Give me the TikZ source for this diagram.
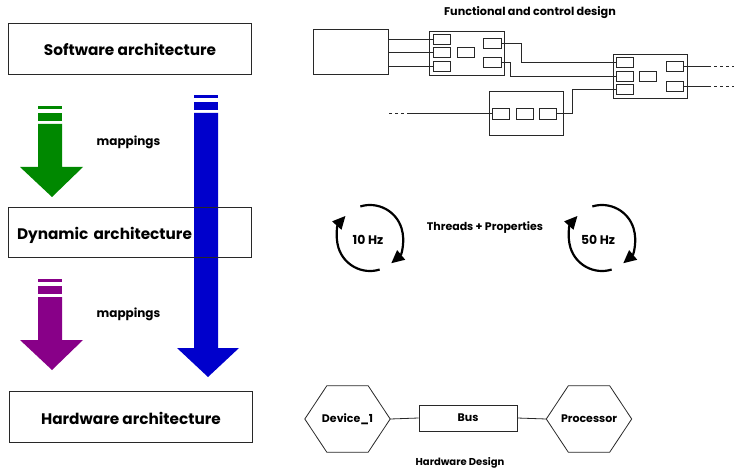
\documentclass[tikz,border=0pt]{standalone}
\usepackage{fontspec}
\setmainfont{Poppins}
\usetikzlibrary{arrows.meta}

\definecolor{mapgreen}{RGB}{0,136,0}
\definecolor{mappurple}{RGB}{136,0,136}
\definecolor{mapblue}{RGB}{0,0,204}
\definecolor{wire}{RGB}{40,40,40}

% hexagon outline drawn around a plain rectangular node
\newcommand\hexoutline[1]{%
  \draw[wire, line width=0.8pt] (#1.west) -- ([xshift=22pt]#1.north west)
    -- ([xshift=-22pt]#1.north east) -- (#1.east)
    -- ([xshift=-22pt]#1.south east) -- ([xshift=22pt]#1.south west) -- cycle;}

\tikzset{
  archbox/.style={draw=wire, line width=0.8pt, minimum width=243pt, inner sep=0pt,
    text height=15pt, text depth=0pt,
    font=\bfseries\fontsize{15.3}{18}\selectfont},
  blk/.style={draw=wire, line width=0.8pt, inner sep=0pt},
  port/.style={draw=wire, line width=0.8pt, inner sep=0pt, minimum width=17pt, minimum height=10pt},
  wireline/.style={wire, line width=0.8pt},
  dashend/.style={wire, line width=0.8pt, dash pattern=on 3pt off 3pt},
  label/.style={font=\bfseries\fontsize{11}{13}\selectfont},
  cyc/.style={line width=2.2pt, -{Triangle[length=13pt,width=12pt]}},
  hexnode/.style={minimum width=85pt, minimum height=66pt, inner sep=0pt,
    font=\bfseries\fontsize{11}{13}\selectfont},
}

\begin{document}
\begin{tikzpicture}[x=1pt, y=-1pt]
\useasboundingbox (0,0) rectangle (734,468);

% ---------- mapping arrows ----------
% green
\fill[mapgreen] (38,106) rectangle (62,109);
\fill[mapgreen] (38,113) rectangle (62,121);
\fill[mapgreen] (38,124) -- (62,124) -- (62,167) -- (83,167) -- (52,197)
  -- (20,167) -- (38,167) -- cycle;
% purple
\fill[mappurple] (38,279) rectangle (62,282);
\fill[mappurple] (38,286) rectangle (62,294);
\fill[mappurple] (38,297) -- (62,297) -- (62,340) -- (83,340) -- (52,370)
  -- (20,340) -- (38,340) -- cycle;
% blue
\fill[mapblue] (194,95) rectangle (218,98);
\fill[mapblue] (194,102) rectangle (218,110);
\fill[mapblue] (194,113) -- (218,113) -- (218,348) -- (239,348) -- (208,377)
  -- (177,348) -- (194,348) -- cycle;

% ---------- architecture levels ----------
\node[archbox, minimum height=51pt] (sw) at (130,48.5) {Software architecture};
\node[archbox, minimum height=50pt, text width=225pt, inner xsep=9pt, align=left,
  text height=16pt] (dyn) at (129.5,232) {Dynamic architecture};
\node[archbox, minimum height=51pt] (hw) at (131,416.5) {Hardware architecture};

\node[label, font=\bfseries\fontsize{12}{14}\selectfont] (map1) at (128.5,142) {mappings};
\node[label, font=\bfseries\fontsize{12}{14}\selectfont] (map2) at (128.5,314) {mappings};

% ---------- functional and control design ----------
\node[label, font=\bfseries\fontsize{11.2}{13}\selectfont] (ftitle) at (530,13) {Functional and control design};

\node[blk, minimum width=75pt, minimum height=45pt] (src) at (350.5,51.5) {};

\node[blk, minimum width=75pt, minimum height=44pt] (A) at (466.5,53) {};
\node[port] (a1) at (441.5,39) {};
\node[port] (a2) at (441.5,52.5) {};
\node[port] (a3) at (441.5,66) {};
\node[port] (a4) at (465.5,52.5) {};
\node[port, minimum width=18pt] (a5) at (492,43) {};
\node[port, minimum width=18pt] (a6) at (492,62.5) {};

\node[blk, minimum width=74pt, minimum height=44pt] (B) at (650,76) {};
\node[port] (b1) at (624.5,62) {};
\node[port] (b2) at (624.5,76) {};
\node[port] (b3) at (624.5,89) {};
\node[port] (b4) at (647.5,76) {};
\node[port] (b5) at (674.5,66) {};
\node[port] (b6) at (674.5,86) {};

\node[blk, minimum width=74pt, minimum height=44pt] (C) at (526,113) {};
\node[port, minimum height=11pt] (c1) at (501,113.5) {};
\node[port, minimum height=11pt] (c2) at (524.5,113.5) {};
\node[port, minimum height=11pt] (c3) at (548,113.5) {};

% bends of the wires
\coordinate (j1) at (521,0);
\coordinate (j2) at (510,0);
\coordinate (j3) at (572,0);
\coordinate (lc) at (410,0);
\coordinate (lf) at (387,0);
\coordinate (rc) at (708,0);
\coordinate (rf) at (734,0);

\draw[wireline] (src.east |- a1.west) -- (a1.west);
\draw[wireline] (src.east |- a2.west) -- (a2.west);
\draw[wireline] (src.east |- a3.west) -- (a3.west);

\draw[wireline] (a5.east) -- (j1 |- a5.east) -- (j1 |- b1.west) -- (b1.west);
\draw[wireline] (a6.east) -- (j2 |- a6.east) -- (j2 |- b2.west) -- (b2.west);
\draw[wireline] (c3.east) -- (j3 |- c3.east) -- (j3 |- b3.west) -- (b3.west);

\draw[wireline] (c1.west) -- (lc |- c1.west);
\draw[dashend] (lc |- c1.west) -- (lf |- c1.west);
\draw[wireline] (b5.east) -- (rc |- b5.east);
\draw[dashend] (rc |- b5.east) -- (rf |- b5.east);
\draw[wireline] (b6.east) -- (rc |- b6.east);
\draw[dashend] (rc |- b6.east) -- (rf |- b6.east);

% ---------- threads ----------
\node[label, font=\bfseries\fontsize{12.4}{14}\selectfont] (t1) at (368,240) {10 Hz};
\node[label, font=\bfseries\fontsize{12.4}{14}\selectfont] (t2) at (598,240) {50 Hz};
\node[label] (tp) at (485,228) {Threads + Properties};

\coordinate (c10) at (370,238);
\coordinate (c50) at (602,238);
\foreach \c in {c10,c50}{
  \draw[cyc] ([shift={(107:33pt)}]\c) arc[start angle=107, end angle=-50, radius=33pt];
  \draw[cyc] ([shift={(-73:33pt)}]\c) arc[start angle=-73, end angle=-222, radius=33pt];
}

% ---------- hardware design ----------
\node[hexnode] (dev) at (347.5,419) {Device\_1};
\node[hexnode] (proc) at (589,419) {Processor};
\hexoutline{dev}
\hexoutline{proc}
\node[blk, minimum width=98pt, minimum height=26pt, font=\bfseries\fontsize{11}{13}\selectfont]
  (bus) at (468,418) {Bus};
\draw[wireline] (dev.east) -- (bus.west);
\draw[wireline] (bus.east) -- (proc.west);
\node[label, font=\bfseries\fontsize{10}{12}\selectfont] (hwtitle) at (460,463) {Hardware Design};
\end{tikzpicture}
\end{document}
